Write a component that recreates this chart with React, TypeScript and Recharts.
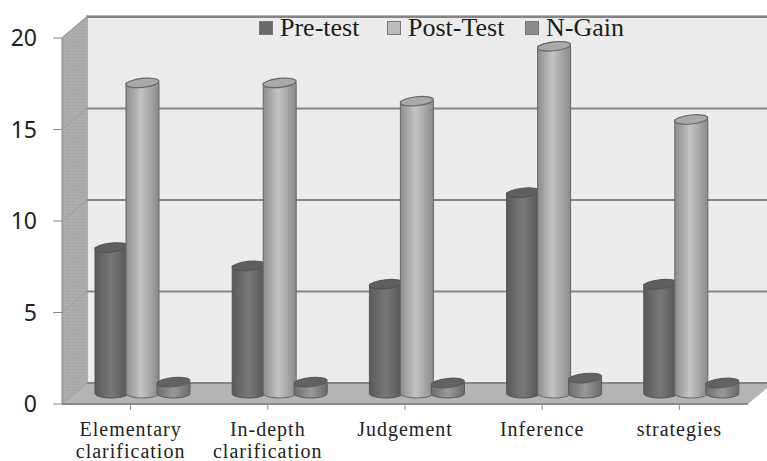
import * as React from 'react';
import { Bar, BarChart, CartesianGrid, Legend, XAxis, YAxis } from 'recharts';

const categories = ['Elementary clarification', 'In-depth clarification', 'Judgement', 'Inference', 'strategies'];
const preTest = [8, 7, 6, 11, 6];
const postTest = [17, 17, 16, 19, 15];
const nGain = [0.65, 0.65, 0.6, 0.87, 0.6];
const yTicks = [0, 5, 10, 15, 20];

const data = categories.map((name, i) => ({
  name,
  'Pre-test': preTest[i],
  'Post-Test': postTest[i],
  'N-Gain': nGain[i],
}));

const SERIF = '"Liberation Serif", serif';
const DEPTH_X = 25;
const DEPTH_Y = 21;
const GRID = '#858585';
const PLOT = { x: 62, y: 37, width: 686, height: 367 };

// the box of the 3d chart sits in its own svg behind the (transparent) chart
function Walls() {
  const { x, y, width, height } = PLOT;
  const right = x + width;
  const bottom = y + height;
  return (
    <svg width={767} height={461} style={{ position: 'absolute', left: 0, top: 0 }}>
      <defs>
        <pattern id="speckle" width="3" height="3" patternUnits="userSpaceOnUse">
          <rect width="3" height="3" fill="#ababab" />
          <rect width="1" height="1" fill="#a0a0a0" />
          <rect x="1.5" y="1.5" width="1" height="1" fill="#b4b4b4" />
        </pattern>
        <linearGradient id="cyl-pre" x1="0" x2="1" y1="0" y2="0">
          <stop offset="0" stopColor="#5a5a5a" />
          <stop offset="0.5" stopColor="#787878" />
          <stop offset="1" stopColor="#555555" />
        </linearGradient>
        <linearGradient id="cyl-post" x1="0" x2="1" y1="0" y2="0">
          <stop offset="0" stopColor="#8d8d8d" />
          <stop offset="0.45" stopColor="#c4c4c4" />
          <stop offset="1" stopColor="#8a8a8a" />
        </linearGradient>
        <linearGradient id="cyl-gain" x1="0" x2="1" y1="0" y2="0">
          <stop offset="0" stopColor="#6e6e6e" />
          <stop offset="0.5" stopColor="#989898" />
          <stop offset="1" stopColor="#6a6a6a" />
        </linearGradient>
      </defs>
      <rect x={x + DEPTH_X} y={y - DEPTH_Y} width={width} height={height} fill="#ececec" stroke="#999" strokeWidth={1.5} />
      <polygon
        points={`${x},${y} ${x + DEPTH_X},${y - DEPTH_Y} ${x + DEPTH_X},${bottom - DEPTH_Y} ${x},${bottom}`}
        fill="url(#speckle)"
      />
      <polygon
        points={`${x},${bottom} ${x + DEPTH_X},${bottom - DEPTH_Y} ${right + DEPTH_X},${bottom - DEPTH_Y} ${right},${bottom}`}
        fill="#b4b4b4"
      />
    </svg>
  );
}

function WallLine(props: any) {
  const { x1, x2, y1 } = props;
  return (
    <g>
      <path d={`M${x1},${y1} L${x1 + DEPTH_X},${y1 - DEPTH_Y}`} fill="none" stroke="#9a9a9a" strokeWidth={1} />
      <path d={`M${x1 + DEPTH_X},${y1 - DEPTH_Y} L${x2 + DEPTH_X},${y1 - DEPTH_Y}`} fill="none" stroke={GRID} strokeWidth={2} />
    </g>
  );
}

function cylinder(gradient: string, capFill: string, edge: string) {
  return (props: any) => {
    const { x, y, width, height } = props;
    const rx = width / 2;
    const ry = 4.5;
    const left = x + 12;
    const top = y - 10;
    const base = top + height;
    const cx = left + rx;
    return (
      <g>
        <path
          d={`M${left},${top} L${left},${base} A${rx},${ry} 0 0 0 ${left + width},${base - 1} L${left + width},${top} Z`}
          fill={`url(#${gradient})`}
          stroke={edge}
          strokeWidth={1}
        />
        <ellipse
          cx={cx}
          cy={top}
          rx={rx}
          ry={ry}
          transform={`rotate(-6 ${cx} ${top})`}
          fill={capFill}
          stroke={edge}
          strokeWidth={1.2}
        />
      </g>
    );
  };
}

function CategoryTick(props: any) {
  const { x, payload } = props;
  const lines = String(payload.value).split(' ');
  return (
    <text textAnchor="middle" fontFamily={SERIF} fontSize={20} letterSpacing={1} fill="#222">
      {lines.map((line, i) => (
        <tspan key={line} x={x} y={436 + i * 22}>
          {line}
        </tspan>
      ))}
    </text>
  );
}

// height 1 so the legend takes no room from the plot, the items hang over it
function LegendRow(props: any) {
  const left = [259, 387, 525];
  return (
    <div style={{ position: 'relative', width: 500, height: 1 }}>
      {props.payload.map((item: any, i: number) => (
        <div key={item.value} style={{ position: 'absolute', left: left[i] - 259, top: 0, display: 'flex', alignItems: 'center' }}>
          <span style={{ display: 'block', width: 14, height: 14, background: item.color, border: '1px solid #777', boxSizing: 'border-box', marginRight: 7 }} />
          <span style={{ fontFamily: SERIF, fontSize: 26, lineHeight: '28px', color: '#1c1c1c', whiteSpace: 'nowrap' }}>{item.value}</span>
        </div>
      ))}
    </div>
  );
}

export default function App() {
  return (
    <div style={{ position: 'absolute', left: 0, top: 0, width: 767, height: 461, overflow: 'hidden', background: '#fff' }}>
      <Walls />
      <div style={{ position: 'absolute', left: 0, top: 0 }}>
        <BarChart
          width={767}
          height={461}
          data={data}
          margin={{ top: 37, right: 19, bottom: 0, left: 0 }}
          barSize={33}
          barGap={-2}
          barCategoryGap={0}
        >
          <CartesianGrid vertical={false} horizontal={(p: any) => <WallLine key={p.key} {...p} />} />
          <XAxis
            dataKey="name"
            height={57}
            interval={0}
            tickSize={6}
            tick={<CategoryTick />}
            axisLine={{ stroke: '#888', strokeWidth: 2 }}
            tickLine={{ stroke: '#888' }}
          />
          <YAxis
            width={62}
            domain={[0, 20]}
            ticks={yTicks}
            tickSize={9}
            tickMargin={16}
            axisLine={{ stroke: '#888' }}
            tickLine={{ stroke: '#888' }}
            tick={{ fontFamily: '"Noto Sans", sans-serif', fontSize: 23, fill: '#222' }}
          />
          <Legend
            verticalAlign="top"
            itemSorter={null}
            content={<LegendRow />}
            wrapperStyle={{ position: 'absolute', left: 259, top: 14, width: 500 }}
          />
          <Bar dataKey="Pre-test" fill="#6a6a6a" isAnimationActive={false} shape={cylinder('cyl-pre', '#5f5f5f', '#555')} />
          <Bar dataKey="Post-Test" fill="#bcbcbc" isAnimationActive={false} shape={cylinder('cyl-post', '#a9a9a9', '#666')} />
          <Bar dataKey="N-Gain" fill="#8c8c8c" isAnimationActive={false} shape={cylinder('cyl-gain', '#636363', '#5a5a5a')} />
        </BarChart>
      </div>
    </div>
  );
}
